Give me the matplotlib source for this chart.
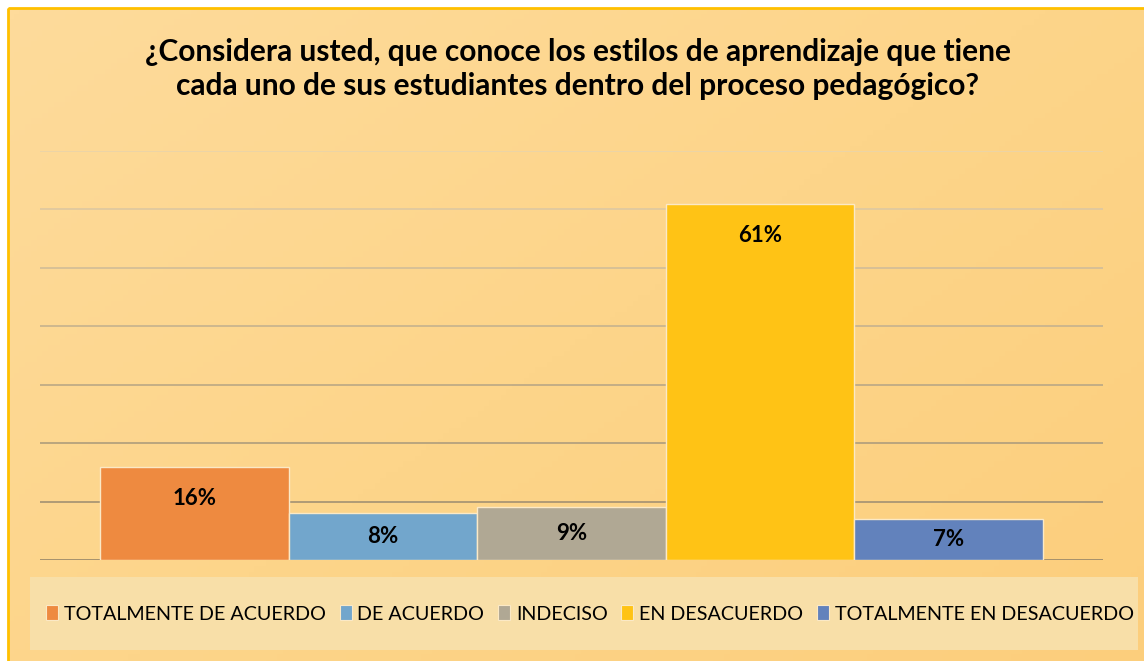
import numpy as np
import matplotlib
matplotlib.use('Agg')
import matplotlib.pyplot as plt
from matplotlib.patches import Rectangle
from matplotlib.colors import LinearSegmentedColormap

# data
categories = ['TOTALMENTE DE ACUERDO', 'DE ACUERDO', 'INDECISO',
              'EN DESACUERDO', 'TOTALMENTE EN DESACUERDO']
values = [16, 8, 9, 61, 7]
labels = ['16%', '8%', '9%', '61%', '7%']
colors = ['#ee8a40', '#72a6cc', '#b0a894', '#ffc315', '#6282bc']
title = ('¿Considera usted, que conoce los estilos de aprendizaje que tiene\n'
         'cada uno de sus estudiantes dentro del proceso pedagógico?')

W, H = 1144, 661
fig = plt.figure(figsize=(W / 100, H / 100), dpi=100, facecolor='white')

# background gradient of the chart area
bg = fig.add_axes([0, 0, 1, 1], zorder=0)
bg.set_xlim(0, W)
bg.set_ylim(H, 0)
bg.axis('off')
cmap = LinearSegmentedColormap.from_list('bg', ['#fedb9b', '#fdd58a', '#fcce7c'])
xx, yy = np.meshgrid(np.linspace(0, 1, 200), np.linspace(0, 1, 120))
bg.imshow(0.55 * xx + 0.45 * yy, cmap=cmap, extent=(8, W + 10, H + 10, 8),
          aspect='auto', zorder=0)
bg.add_patch(Rectangle((8, 8), W + 10, H + 10, fill=False,
                       edgecolor='#ffc000', lw=2, zorder=2))
# legend box
bg.add_patch(Rectangle((30, 577), 1108, 73, facecolor='#f8dfa8',
                       edgecolor='none', zorder=1))

bg.text(W / 2 + 6, 69, title, ha='center', va='center', fontsize=21.5,
        fontweight='bold', family='Lato', linespacing=1.3, color='black')

ax = fig.add_axes([40 / W, 1 - 560 / H, (1103 - 40) / W, (560 - 151) / H],
                  zorder=1)
ax.patch.set_visible(False)
x = np.arange(len(values))
ax.set_xlim(-0.5 - 0.32, len(values) - 0.5 + 0.32)
ax.set_ylim(0, 70)

# gridlines darker towards the bottom
for g in range(0, 80, 10):
    t = g / 70
    c = np.array([0.62, 0.55, 0.42]) * (1 - t) + np.array([0.92, 0.83, 0.66]) * t
    ax.axhline(g, color=c, lw=1.3, zorder=0)

bars = ax.bar(x, values, width=1.0, color=colors, edgecolor='#fbe9c6',
              linewidth=1, zorder=2, label=None)
for xi, v, lab in zip(x, values, labels):
    ax.text(xi, max(v - 5.5, v / 2), lab, ha='center', va='center',
            fontsize=16, fontweight='bold', family='Lato', zorder=3)

for s in ax.spines.values():
    s.set_visible(False)
ax.set_xticks([])
ax.set_yticks([])

handles = [Rectangle((0, 0), 1, 1, facecolor=c, edgecolor='#fbe9c6', lw=0.8)
           for c in colors]
fig.legend(handles, categories, loc='center', bbox_to_anchor=(590 / W, 1 - 614 / H),
           ncol=5, frameon=False, handlelength=0.6, handleheight=0.75,
           handletextpad=0.3, columnspacing=0.7, borderaxespad=0,
           prop={'family': 'Lato', 'size': 14.2})

fig.savefig('out.png', dpi=100)
